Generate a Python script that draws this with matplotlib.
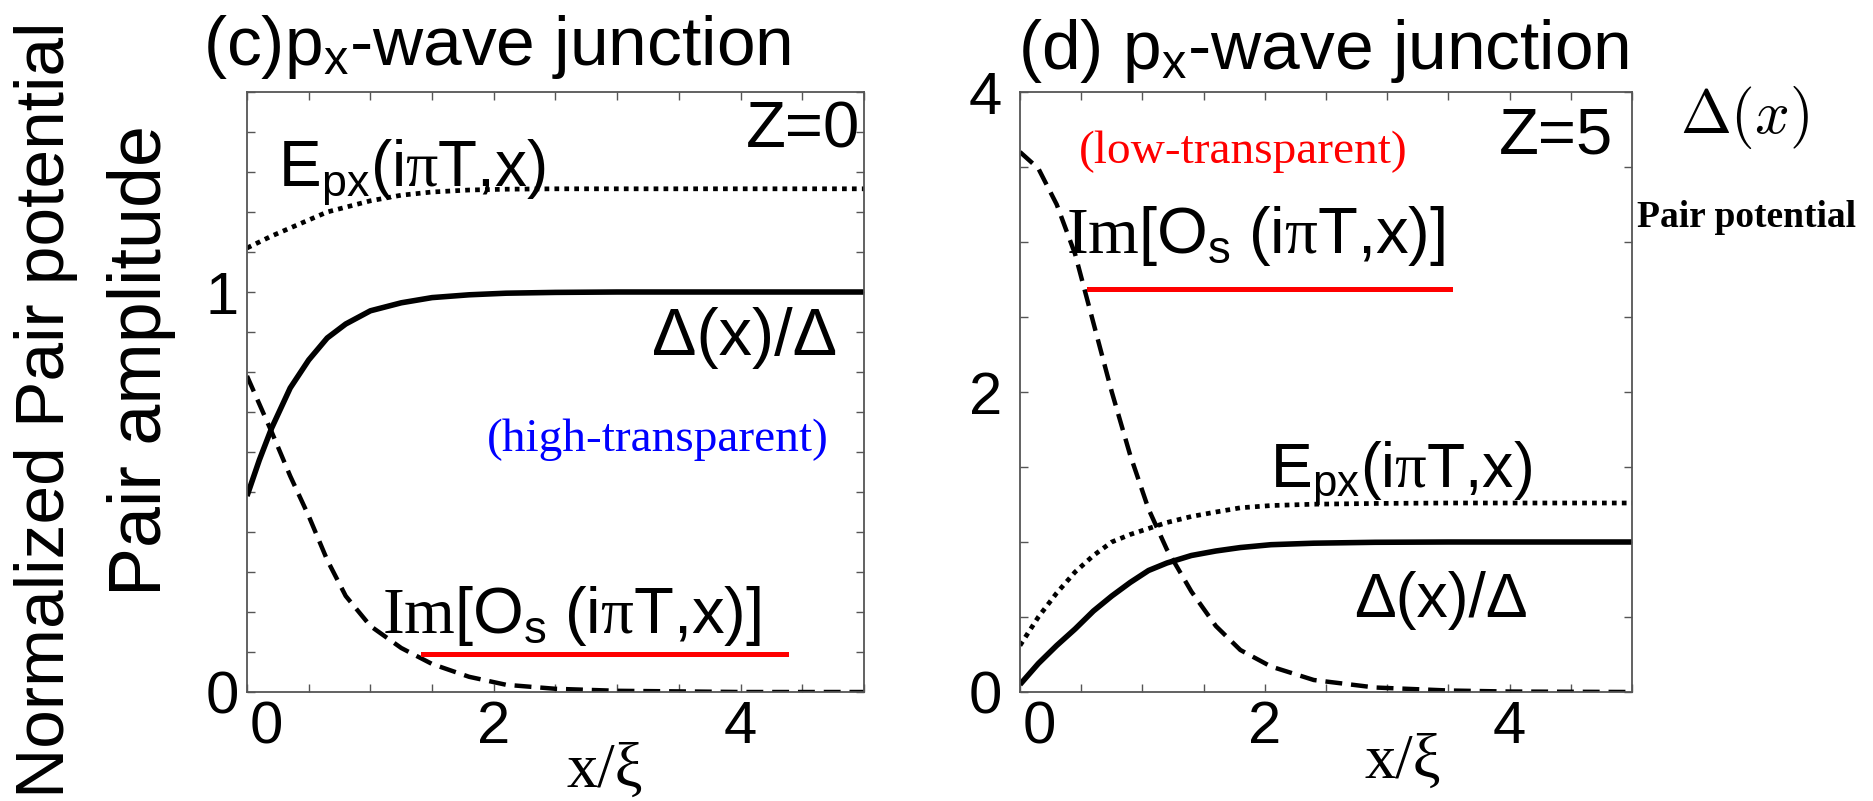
import matplotlib
matplotlib.use("Agg")
import matplotlib.pyplot as plt
from matplotlib.lines import Line2D
from matplotlib.ticker import MultipleLocator
from matplotlib.transforms import ScaledTranslation

plt.rcParams['font.family'] = ['Liberation Sans', 'DejaVu Sans']
plt.rcParams['mathtext.fontset'] = 'custom'
plt.rcParams['mathtext.rm'] = 'Liberation Serif'
plt.rcParams['mathtext.sf'] = 'Liberation Sans'
plt.rcParams['mathtext.it'] = 'Liberation Serif:italic'
plt.rcParams['mathtext.bf'] = 'Liberation Serif:bold'

# ---------------- data ----------------
# panel (c): Z = 0
x_c = [0, 0.1, 0.2, 0.35, 0.5, 0.65, 0.8, 1.0, 1.25, 1.5, 1.8, 2.1, 2.5, 3.0, 4.0, 5.0]
delta_c = [0.49, 0.58, 0.66, 0.76, 0.83, 0.885, 0.92, 0.953, 0.973, 0.986, 0.993, 0.997, 0.999, 1.0, 1.0, 1.0]
im_os_c = [0.79, 0.72, 0.65, 0.54, 0.44, 0.33, 0.24, 0.165, 0.11, 0.07, 0.038, 0.018, 0.008, 0.003, 0.0, 0.0]
e_px_c = [1.11, 1.125, 1.14, 1.16, 1.18, 1.20, 1.212, 1.228, 1.242, 1.25, 1.255, 1.257, 1.258, 1.258, 1.258, 1.258]

# panel (d): Z = 5
x_d = [0, 0.15, 0.3, 0.45, 0.6, 0.75, 0.9, 1.05, 1.2, 1.4, 1.6, 1.8, 2.05, 2.4, 2.9, 3.5, 4.0, 5.0]
delta_d = [0.05, 0.19, 0.31, 0.42, 0.54, 0.64, 0.73, 0.81, 0.86, 0.91, 0.94, 0.963, 0.982, 0.992, 0.998, 1.0, 1.0, 1.0]
im_os_d = [3.6, 3.49, 3.25, 2.92, 2.46, 2.0, 1.58, 1.22, 0.95, 0.67, 0.44, 0.28, 0.17, 0.08, 0.03, 0.01, 0.003, 0.0]
e_px_d = [0.31, 0.50, 0.66, 0.80, 0.91, 1.0, 1.05, 1.09, 1.13, 1.17, 1.20, 1.228, 1.243, 1.252, 1.257, 1.26, 1.26, 1.26]

xticks = [0, 2, 4]
xticklabels = ['0', '2', '4']
yticks_c = [0, 1]
yticklabels_c = ['0', '1']
yticks_d = [0, 2, 4]
yticklabels_d = ['0', '2', '4']

# ---------------- figure ----------------
W, H = 1874, 801
fig = plt.figure(figsize=(W / 100, H / 100), dpi=100)


def fx(p):
    return p / W


def fy(p):
    return 1 - p / H


axL = fig.add_axes([fx(247), fy(692), (864 - 247) / W, 600 / H])
axR = fig.add_axes([fx(1020), fy(692), (1632 - 1020) / W, 600 / H])

spine_col = '#555555'
for ax, yt, ytl, ylim, yminor, ypad in [
        (axL, yticks_c, yticklabels_c, 1.5, 0.1, 6),
        (axR, yticks_d, yticklabels_d, 4.0, 0.5, 13)]:
    ax.set_xlim(0, 5)
    ax.set_ylim(0, ylim)
    ax.set_xticks(xticks)
    ax.set_xticklabels(xticklabels)
    ax.set_yticks(yt)
    ax.set_yticklabels(ytl)
    ax.xaxis.set_minor_locator(MultipleLocator(0.5))
    ax.yaxis.set_minor_locator(MultipleLocator(yminor))
    ax.tick_params(which='both', direction='in', top=True, right=True,
                   length=6, width=1.0, color=spine_col)
    ax.tick_params(axis='x', labelsize=43, pad=6)
    ax.tick_params(axis='y', labelsize=43, pad=ypad)
    for s in ax.spines.values():
        s.set_color(spine_col)
        s.set_linewidth(1.3)
    lab0 = ax.get_xticklabels()[0]
    lab0.set_horizontalalignment('left')
    lab0.set_transform(lab0.get_transform() + ScaledTranslation(3 / 100, 0, fig.dpi_scale_trans))

# curves
for ax, xs, e_px, delta, im_os in [(axL, x_c, e_px_c, delta_c, im_os_c),
                                   (axR, x_d, e_px_d, delta_d, im_os_d)]:
    ax.plot(xs, e_px, color='black', lw=3.4, dashes=(1, 1.1))
    ax.plot(xs, delta, color='black', lw=4.0, solid_capstyle='butt')
    ax.plot(xs, im_os, color='black', lw=3.2, dashes=(3.8, 2))

# ---------------- texts ----------------
fig.text(fx(46), fy(410), 'Normalized Pair potential', rotation=90,
         ha='center', va='center', fontsize=50)
fig.text(fx(142), fy(360), 'Pair amplitude', rotation=90,
         ha='center', va='center', fontsize=53)

fig.text(fx(203), fy(65), r'(c)p$_\mathsf{x}$-wave junction', fontsize=50,
         ha='left', va='baseline')
fig.text(fx(1018), fy(69), r'(d) p$_\mathsf{x}$-wave junction', fontsize=50,
         ha='left', va='baseline')

E_LABEL = r'$\mathsf{E_{px}(i}\mathrm{\pi}\mathsf{T{,}x)}$'
IM_LABEL = r'$\mathrm{Im}\mathsf{[O_s\ (i}\mathrm{\pi}\mathsf{T{,}x)]}$'

# panel (c) annotations
fig.text(fx(860), fy(148), 'Z=0', fontsize=47, ha='right', va='baseline')
fig.text(fx(278), fy(187), E_LABEL, fontsize=46, ha='left', va='baseline')
fig.text(fx(837), fy(355), 'Δ(x)/Δ', fontsize=48, ha='right', va='baseline')
fig.text(fx(658), fy(451), '(high-transparent)', fontsize=34, color='#0000ff',
         family='Liberation Serif', ha='center', va='baseline')
fig.text(fx(382), fy(633), IM_LABEL, fontsize=47, ha='left', va='baseline')
fig.add_artist(Line2D([fx(423), fx(786)], [fy(654), fy(654)], color='#ff0000', lw=3.6))
fig.text(fx(605), fy(787), 'x/ξ', fontsize=45, family='Liberation Serif',
         ha='center', va='baseline')

# panel (d) annotations
fig.text(fx(1613), fy(153), 'Z=5', fontsize=47, ha='right', va='baseline')
fig.text(fx(1243), fy(163), '(low-transparent)', fontsize=34, color='#ff0000',
         family='Liberation Serif', ha='center', va='baseline')
fig.text(fx(1066), fy(253), IM_LABEL, fontsize=47, ha='left', va='baseline')
fig.add_artist(Line2D([fx(1089), fx(1450)], [fy(289), fy(289)], color='#ff0000', lw=3.6))
fig.text(fx(1270), fy(487), E_LABEL, fontsize=45, ha='left', va='baseline')
fig.text(fx(1528), fy(617), 'Δ(x)/Δ', fontsize=45, ha='right', va='baseline')
fig.text(fx(1403), fy(778), 'x/ξ', fontsize=45, family='Liberation Serif',
         ha='center', va='baseline')

# outside labels
fig.text(fx(1680), fy(133), r'$\Delta(x)$', fontsize=44, math_fontfamily='cm',
         ha='left', va='baseline')
fig.text(fx(1637), fy(227), 'Pair potential', fontsize=27, family='Liberation Serif',
         fontweight='bold', ha='left', va='baseline')

fig.savefig('out.png', dpi=100)
